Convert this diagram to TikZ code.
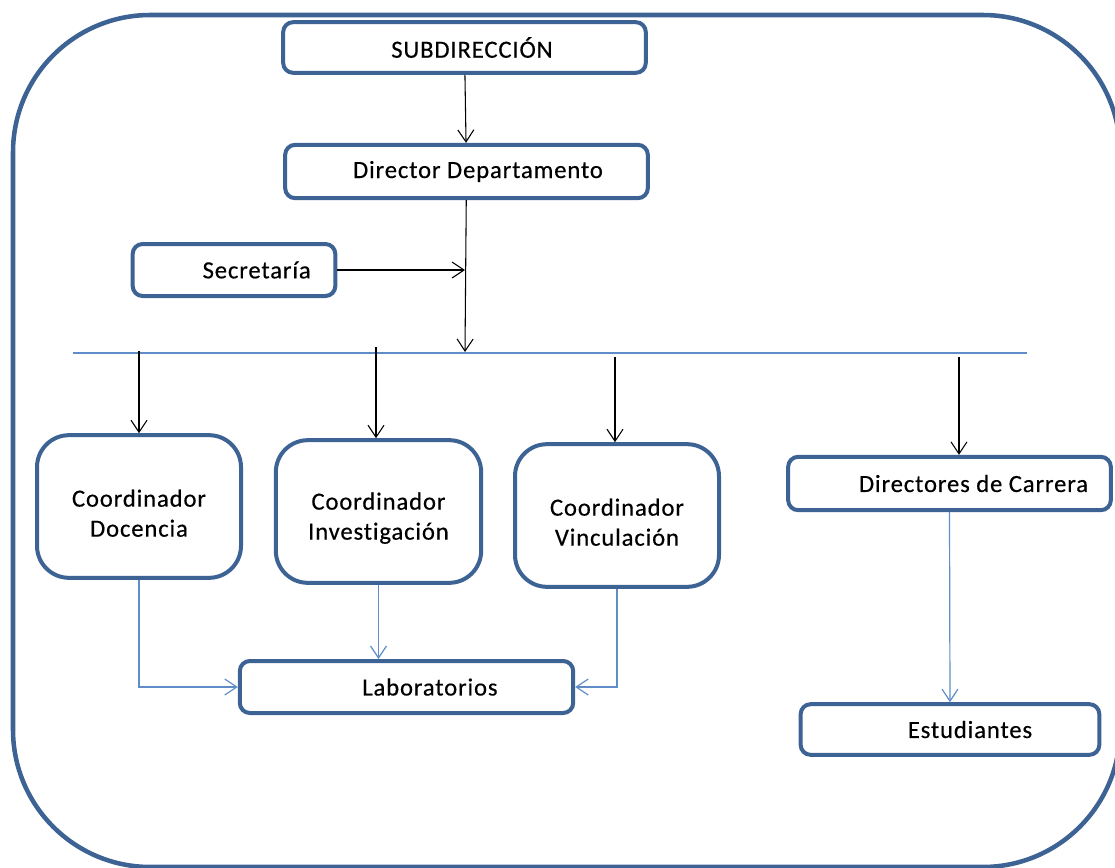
\documentclass[tikz,border=0pt]{standalone}
\usepackage{fontspec}
\setmainfont{Carlito}
\newfontfamily\boxfont[LetterSpace=3.5, Ligatures=NoCommon, FakeBold=0.4]{Carlito}
\usetikzlibrary{arrows.meta}
\definecolor{boxblue}{RGB}{60,99,148}
\definecolor{lineblue}{RGB}{96,140,200}

\begin{document}
\begin{tikzpicture}[
    x=0.75pt, y=-0.75pt,
    box/.style={rectangle, draw=boxblue, line width=3pt, rounded corners=7.5pt, minimum height=39pt, fill=white},
    tallbox/.style={box, rounded corners=24pt, minimum width=153pt, minimum height=107pt},
    txt/.style={font=\boxfont\fontsize{18.5}{22.5}\selectfont, align=center},
    arrow/.style={-{Straight Barb[length=9pt, width=12pt]}, line width=0.8pt},
    bluearrow/.style={arrow, draw=lineblue, line width=0.9pt}
]
\useasboundingbox (0,0) rectangle (1115,868);

% frame
\draw[boxblue, line width=3.4pt, rounded corners=103pt] (13,15) rectangle (1120,867);

% top chain
\node[box, minimum width=272pt, minimum height=38pt, label={[txt, xshift=5.6pt]center:SUBDIRECCIÓN}] (sub) at (464.5,47.5) {};
\node[box, minimum width=272pt, minimum height=40pt, label={[txt, xshift=8.6pt]center:Director Departamento}] (dir) at (466.5,171.5) {};
\node[box, minimum width=152pt, label={[txt, xshift=17pt]center:Secretaría}] (sec) at (234,270) {};

% coordinators
\node[tallbox, label={[txt, yshift=-5pt]center:Coordinador\\Docencia}] (doc) at (139,506.5) {};
\node[tallbox, minimum width=154pt, label={[txt, yshift=-5pt]center:Coordinador\\Investigación}] (inv) at (378.5,511.5) {};
\node[tallbox, label={[txt, yshift=-5pt]center:Coordinador\\Vinculación}] (vin) at (617,515.5) {};
\node[box, minimum width=242pt, minimum height=40pt, label={[txt, xshift=18pt]center:Directores de Carrera}] (car) at (949.5,483.5) {};

% bottom row
\node[box, minimum width=250pt, label={[txt, xshift=17.6pt]center:Laboratorios}] (lab) at (406.5,687) {};
\node[box, minimum width=224pt, minimum height=38pt, label={[txt, xshift=15pt]center:Estudiantes}] (est) at (950,729.5) {};

% distribution line
\coordinate (hl) at (73,353);
\coordinate (hr) at (1027,353);
\coordinate (hm) at (465,352);
\draw[lineblue, line width=0.9pt] (hl) -- (hr);

\coordinate (d1) at (139,351);
\coordinate (d2) at (376,347);
\coordinate (d3) at (615,357);
\coordinate (d4) at (959,357);

\draw[arrow] (sub) -- (dir);
\draw[arrow] (dir) -- (hm);
\draw[arrow] (sec) -- (sec -| hm);
\draw[arrow] (d1) -- (d1 |- doc.north);
\draw[arrow] (d2) -- (d2 |- inv.north);
\draw[arrow] (d3) -- (d3 |- vin.north);
\draw[arrow] (d4) -- (d4 |- car.north);

\draw[bluearrow] (doc.south) |- (lab.west);
\draw[bluearrow] (inv.south) -- (inv.south |- lab.north);
\draw[bluearrow] (vin.south) |- (lab.east);
\draw[bluearrow] (car.south) -- (est.north);
\end{tikzpicture}
\end{document}
